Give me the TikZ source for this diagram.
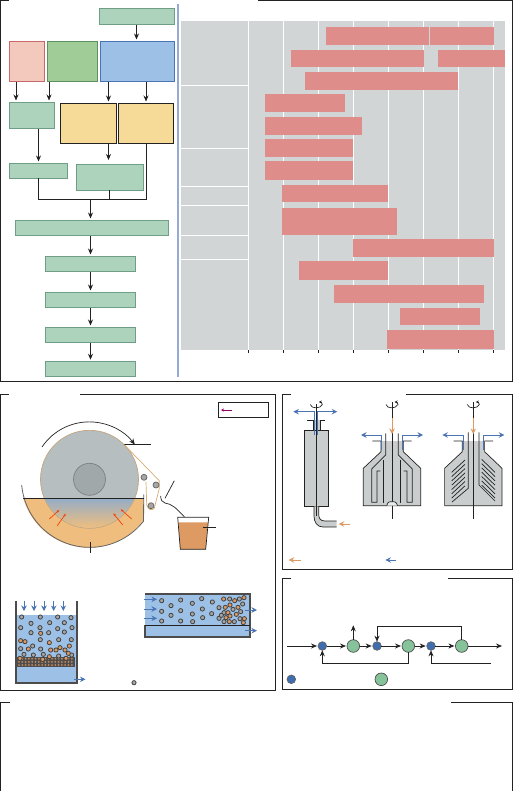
\documentclass[tikz,border=0pt]{standalone}
\usepackage{xcolor}
\usetikzlibrary{arrows.meta, positioning, calc}

\definecolor{flowfill}{HTML}{AED3BC}
\definecolor{flowline}{HTML}{6E9E86}
\definecolor{barfill}{HTML}{DE8D8A}
\definecolor{panelgray}{HTML}{D2D5D6}
\definecolor{bodygray}{HTML}{C9CDCD}
\definecolor{feedorange}{HTML}{DD9A63}
\definecolor{waterblue}{HTML}{4A74B4}
\definecolor{liquidblue}{HTML}{9DC1E6}
\definecolor{troughorange}{HTML}{EFBE7E}
\definecolor{chemfill}{HTML}{F3C9BE}
\definecolor{chemline}{HTML}{C9686A}
\definecolor{biofill}{HTML}{A0CC98}
\definecolor{bioline}{HTML}{5E9064}
\definecolor{solidfill}{HTML}{F6DA97}
\definecolor{sideline}{HTML}{96AAD8}
\definecolor{drumgray}{HTML}{B7BEBF}
\definecolor{hubgray}{HTML}{A0A8AA}
\definecolor{stagegreen}{HTML}{87C39A}
\definecolor{splitblue}{HTML}{3E6DB0}
\definecolor{ink}{HTML}{222222}

\begin{document}
\begin{tikzpicture}[
    x=1pt, y=-1pt,
    line width=0.7pt,
    >={Stealth[length=6pt,width=5pt]},
    ink,
    every node/.style={inner sep=0pt, outer sep=0pt},
    flow/.style={rectangle, draw=flowline, fill=flowfill},
    mixbox/.style={rectangle, draw=ink, fill=#1},
    link/.style={->, shorten >=1.5pt, shorten <=1pt},
    frameline/.style={line width=0.8pt},
    bar/.style={fill=barfill},
    wateraro/.style={->, draw=waterblue, line width=0.9pt, >={Stealth[length=5.5pt,width=5.5pt]}},
    feedaro/.style={->, draw=feedorange, line width=0.9pt, >={Stealth[length=5.5pt,width=5.5pt]}},
    splitter/.style={circle, draw=ink!70, fill=splitblue, minimum size=8.6pt},
    stage/.style={circle, draw=ink!80, fill=stagegreen, minimum size=12.6pt},
    solidp/.style={circle, draw=ink!85, fill=gray!70, line width=0.8pt, minimum size=4.2pt},
    orangep/.style={circle, draw=ink!85, fill=feedorange, line width=0.8pt, minimum size=4.2pt},
    roller/.style={circle, draw=ink!70, fill=gray!70, minimum size=6pt}
]
\useasboundingbox (0,0) rectangle (513,791);

% Panel frames
\draw[frameline] (9,0.5) -- (0.5,0.5) -- (0.5,381) -- (512.3,381) -- (512.3,0.5) -- (258,0.5);
\draw[frameline] (9,394.3) -- (0.7,394.3) -- (0.7,690) -- (275.7,690) -- (275.7,394.3) -- (80,394.3);
\draw[frameline] (291,394) -- (282.3,394) -- (282.3,569.7) -- (512.3,569.7) -- (512.3,394) -- (406.3,394);
\draw[frameline] (291,578) -- (282.3,578) -- (282.3,689.3) -- (512.3,689.3) -- (512.3,578) -- (448,578);
\draw[frameline] (10,702.5) -- (0.7,702.5) -- (0.7,791);
\draw[frameline] (451,702.5) -- (512.3,702.5) -- (512.3,791);
\draw[line width=1.1pt, color=sideline] (178,4) -- (178,377);

% Flow sheet boxes
\node[flow, minimum width=75pt, minimum height=16pt] (feed) at (136.5,16) {};
\node[mixbox=chemfill, draw=chemline, minimum width=35pt, minimum height=40pt] (chem) at (27,61) {};
\node[flow, fill=biofill, draw=bioline, minimum width=50pt, minimum height=40pt] (bio) at (72,61) {};
\node[flow, fill=liquidblue, draw=waterblue, minimum width=74pt, minimum height=40pt] (phys) at (137,61) {};
\node[flow, minimum width=45pt, minimum height=26pt] (leach) at (32,115) {};
\node[mixbox=solidfill, minimum width=55.5pt, minimum height=40pt] (solidA) at (88.25,123) {};
\node[mixbox=solidfill, minimum width=55pt, minimum height=40pt] (solidB) at (146,123) {};
\node[flow, minimum width=58pt, minimum height=15pt] (rowA) at (38.5,170.5) {};
\node[flow, minimum width=67.5pt, minimum height=26pt] (rowB) at (109.75,177) {};
\node[flow, minimum width=153pt, minimum height=15pt] (wide) at (91.5,227.5) {};
\node[flow, minimum width=89.5pt, minimum height=15pt] (stepA) at (90.5,263.5) {};
\node[flow, minimum width=89.5pt, minimum height=15pt] (stepB) at (90.5,299.5) {};
\node[flow, minimum width=89.5pt, minimum height=15pt] (stepC) at (90.5,334.5) {};
\node[flow, minimum width=89.5pt, minimum height=15pt] (stepD) at (90.5,368.75) {};

% Flow sheet connectors
\draw[link] (feed.south) -- (feed.south |- phys.north);
\draw[link] ([xshift=6.5pt]chem.south west) -- ([xshift=6.5pt]leach.north west);
\draw[link] ([xshift=2pt]bio.south west) -- ([xshift=39.5pt]leach.north west);
\draw[link] ([xshift=8.5pt]phys.south west) -- ([xshift=48pt]solidA.north west);
\draw[link] ([xshift=46pt]phys.south west) -- ([xshift=27.5pt]solidB.north west);
\draw[link] ([xshift=29pt]leach.south west) -- (rowA.north);
\draw[link, shorten >=4pt] ([xshift=48pt]solidA.south west) -- ([xshift=32.5pt]rowB.north west);
\coordinate (bus) at (90.5,199.5);
\coordinate (busend) at (146,199.5);
\draw (rowA.south) |- (busend) -- ([xshift=27.5pt]solidB.south west);
\draw (rowB.south) -- (rowB.south |- busend);
\draw[link] (bus) -- (bus |- wide.north);
\foreach \a/\b in {wide/stepA, stepA/stepB, stepB/stepC, stepC/stepD}
    \draw[link] (\a.south -| stepA) -- (\b.north -| stepA);

% Process window chart
\fill[panelgray] (181,21) rectangle (505,350);
\foreach \x in {248.3,283.3,318.7,353.3,388.3,423.3,458.7,493.3} {
    \draw[white] (\x,21) -- (\x,350);
    \draw (\x,350) -- (\x,353);
}
\foreach \y in {85.3,148,186.3,205.3,235.3,259.3}
    \draw[white] (181,\y) -- (248.3,\y);
\foreach \xa/\xb/\ya/\yb in {326/429.3/27/45, 430/494/27/45, 291/424/50/67, 438/505/50/67,
    305/458/72/90, 265/345/94/112, 265/362/116.7/135, 265/353/139/157, 265/353/161.3/180,
    282/388/185/202, 282/397/208/235, 353/494/239/257, 299/388/261/280, 334/484/285/303,
    400/480/308/325, 387/494/330/349}
    \fill[bar] (\xa,\ya) rectangle (\xb,\yb);

% Rotary drum filter
\node[draw=ink, minimum width=50pt, minimum height=15.7pt] (legend) at (243,409.8) {};
\draw[->, color=red!60!blue, >={Stealth[length=3pt,width=3pt]}] (232,410) -- (221,410);
\fill[troughorange] (23.3,498.3) arc[start angle=163.9, end angle=38, radius=68.3] -- (143.7,498.3) -- cycle;
\draw[ink!70, line width=0.8pt] (21.7,485) arc[start angle=175, end angle=38, radius=68.3] -- (143.7,494.3);
\node[circle, draw=troughorange!60!gray, fill=drumgray, minimum size=98pt] (drum) at (89.5,479.3) {};
\begin{scope}
    \clip (89.5,479.3) circle[radius=48.6];
    \shade[top color=liquidblue!70!gray, bottom color=troughorange] (40,498.3) rectangle (139,528);
\end{scope}
\node[circle, draw=gray, fill=hubgray, minimum size=32pt] (hub) at (drum) {};
\draw (23.3,498.3) -- (143.7,498.3);
\draw[->] (42,447) arc[start angle=-146, end angle=-37, radius=57];
\coordinate (dropout) at (drum.45);
\draw (dropout) -- ++(27,0);
\draw (90.5,542) -- (90.5,553);
\foreach \xa/\ya/\xb/\yb in {49.3/519/59.3/510, 57.3/525.7/65.7/513.7, 131.7/519/120.7/509.3, 122.7/525/113.3/513.3}
    \draw[->, color=red!55!orange!90!gray, >={Stealth[length=3pt,width=2.5pt]}] (\xa,\ya) -- (\xb,\yb);

% Belt, rollers and collecting cup
\draw[draw=troughorange!90!black] (dropout) -- (159.3,480.7) -- (159.3,488.3) -- (154.3,508.3)
    .. controls (152,511) and (148,510) .. (146.7,505) -- (146,481.7);
\node[roller] (rollA) at (144,477.3) {};
\node[roller] (rollB) at (156,485) {};
\node[roller] (rollC) at (151,505.7) {};
\draw (174.3,480.7) -- (165,498.3);
\draw (160.7,496) .. controls (160.7,500) and (162,502) .. (165,503)
    .. controls (172,504) and (176,508) .. (184.3,516.7);
\fill[feedorange] (178.3,522.3) -- (180.3,549.3) -- (205.7,549.3) -- (208,522.3) -- cycle;
\draw (177.7,517.3) -- (180.3,549.3) -- (205.7,549.3) -- (208.7,517.3) -- cycle;
\draw (203.3,527.3) -- (215.7,527.3);

% Dead end filter
\fill[liquidblue] (16.5,615) rectangle (75.5,682);
\fill[ink!80] (17,657.3) rectangle (75,666.7);
\foreach \x in {19,22.3,...,74}
    \foreach \y in {658.7,661.9,665}
        \fill[feedorange!90!black] (\x,\y) circle[radius=1];
\draw[gray!60!black, line width=2pt] (15.5,600.7) -- (15.5,682.5) -- (76.5,682.5) -- (76.5,600.7);
\foreach \x in {24,34,44,53.7,63.3}
    \draw[wateraro] (\x,600.7) -- (\x,611);
\draw[wateraro] (74,679.3) -- (85.5,679.3);
\foreach \x/\y in {65/141,121/141,173/141,213/143,93/160,149/158,193/158,62/173,120/173,173/176,216/173,93/188,146/188,193/186,214/209,121/209,176/209,62/236,122/237,98/228,176/258,72/253,100/255,130/253,215/255}
    \node[solidp] at (\x/3,570+\y/3) {};
\foreach \x/\y in {122/190,62/212,75/215,148/218,85/237,152/240,168/240,180/233,195/240,208/228,205/250,148/260,198/265,128/268,60/265}
    \node[orangep] at (\x/3,570+\y/3) {};

% Cross flow filter
\fill[liquidblue] (145,594) rectangle (250,637);
\draw[gray!60!black, line width=2pt] (145,594) -- (250,594) -- (250,637) -- (145,637) -- (145,625);
\draw[ink] (145,625) -- (250,625);
\foreach \y in {599.3,609,618.3}
    \draw[wateraro] (144,\y) -- (157,\y);
\draw[wateraro] (245,610) -- (257,610);
\draw[wateraro] (245,630.7) -- (257,630.7);
\foreach \x/\y in {485/92,513/107,542/90,577/100,605/86,637/96,485/124,513/136,542/122,577/132,607/117,635/131,485/153,542/153,578/155,608/143,657/113,657/145,689/87,718/87,728/102,699/118,672/128,722/125,664/136,720/146,672/155,703/155}
    \node[solidp] at (\x/3,570+\y/3) {};
\foreach \x/\y in {671/87,704/92,732/83,714/112,676/112,690/105,684/128,709/133,690/138,678/143,733/146,688/155,730/158}
    \node[orangep] at (\x/3,570+\y/3) {};
\node[solidp] (grain) at (134,682.7) {};

% Tubular centrifuge
\fill[bodygray] (304.3,430) rectangle (328.3,506.3);
\fill[bodygray] (313,420) rectangle (319.5,430);
\draw (304.3,430) rectangle (328.3,506.3);
\draw (307.3,420) -- (313,420) -- (313,430);
\draw (325.3,420) -- (320,420) -- (320,430);
\fill[bodygray] (314,506.3) -- (314,516) .. controls (314,522) and (317,527) .. (323,527) -- (336.5,527) -- (336.5,521) -- (325,521) .. controls (320,521) and (318.7,518) .. (318.7,514) -- (318.7,506.3) -- cycle;
\draw (314,506.3) -- (314,516) .. controls (314,522) and (317,527) .. (323,527) -- (336.5,527);
\draw (318.7,506.3) -- (318.7,514) .. controls (318.7,518) and (320,521) .. (325,521) -- (336.5,521);
\draw (316.3,404) -- (316.3,516);
\draw[wateraro] (314.7,435) -- (314.7,411.7) -- (293.3,411.7);
\draw[wateraro] (317.7,435) -- (317.7,411.7) -- (337.3,411.7);
\draw[feedaro] (350,524) -- (338.7,524);

% Bowl outline shared by the disc stack centrifuges
\foreach \cx in {0,81.3} {
    \begin{scope}[xshift=\cx pt]
    \fill[bodygray] (381,441) -- (381,451.7) -- (363.3,468.3) -- (363.3,505.7) -- (420.7,505.7) -- (420.7,468.3) -- (403.3,451.7) -- (403.3,441) -- cycle;
    \draw (372.3,441) -- (381,441) -- (381,451.7) -- (363.3,468.3) -- (363.3,505.7) -- (420.7,505.7) -- (420.7,468.3) -- (403.3,451.7) -- (403.3,441) -- (411.7,441);
    \draw (392,402) -- (392,519);
    \draw[feedaro] (392,418) -- (392,434);
    \draw[wateraro] (381.7,450) -- (381.7,435) -- (361,435);
    \draw[wateraro] (402,450) -- (402,435) -- (423,435);
    \end{scope}
}

% Chamber walls of the middle bowl
\draw (385.7,433.3) -- (385.7,455) -- (371.7,469) -- (371.7,502.3) -- (377,502.3) -- (377,471) -- (380.3,471);
\draw (398.3,433.3) -- (398.3,455) -- (412.3,469) -- (412.3,502.3) -- (407,502.3) -- (407,471) -- (403.7,471);
\draw (383.3,460) -- (383.3,503.3);
\draw (400.7,460) -- (400.7,503.3);
\draw[fill=bodygray!40!white] (386.7,505.7) .. controls (388,501) and (390,501.7) .. (392,501.7) .. controls (394,501.7) and (396,501) .. (397.7,505.7);

% Disc stack of the right bowl
\draw (468.3,432.3) -- (468.3,488.3) -- (452,502);
\draw (479,432.3) -- (479,485) -- (495,501);
\foreach \k in {0,...,6} {
    \draw (451.7,472.3+4.3*\k) -- (465,460+4.3*\k);
    \draw (481.7,459.3+4.3*\k) -- (495,472.3+4.3*\k);
}

% Rotation marks
\foreach \cx in {316.3,392,473.3}
    \draw[->, >={Stealth[length=3pt,width=3pt]}] (\cx-6,404.5) .. controls (\cx-5,409) and (\cx+4,409) .. (\cx+6,404.5) .. controls (\cx+6.5,402.5) and (\cx+4,402) .. (\cx+2.5,402);

% Legend arrows of the centrifuge panel
\draw[feedaro] (300.7,560) -- (288.7,560);
\draw[wateraro] (396,560) -- (385.3,560);

% Counter current scheme
\coordinate (inlet) at (287.3,646);
\node[splitter] (mixA) at (322.3,646) {};
\node[stage] (sepA) at (353.3,646) {};
\node[splitter] (mixB) at (377,646) {};
\node[stage] (sepB) at (408.3,646) {};
\node[splitter] (mixC) at (431,646) {};
\node[stage] (sepC) at (461.7,646) {};
\coordinate (outlet) at (503,646);
\coordinate (topout) at (353.3,625.3);
\coordinate (wash) at (490.7,663);
\node[splitter] (keyA) at (291.3,679.3) {};
\node[stage] (keyB) at (381.3,679.3) {};
\foreach \a/\b in {inlet/mixA, mixA/sepA, sepA/mixB, mixB/sepB, sepB/mixC, mixC/sepC, sepC/outlet}
    \draw[->, shorten >=1pt] (\a) -- (\b);
\draw[->] (sepA) -- (topout);
\draw[->] (sepC.north) |- (377,626) -- (mixB.north);
\draw[->] (sepB.south) |- (322.3,663) -- (mixA.south);
\draw[->] (wash) -| (mixC.south);

\end{tikzpicture}
\end{document}
